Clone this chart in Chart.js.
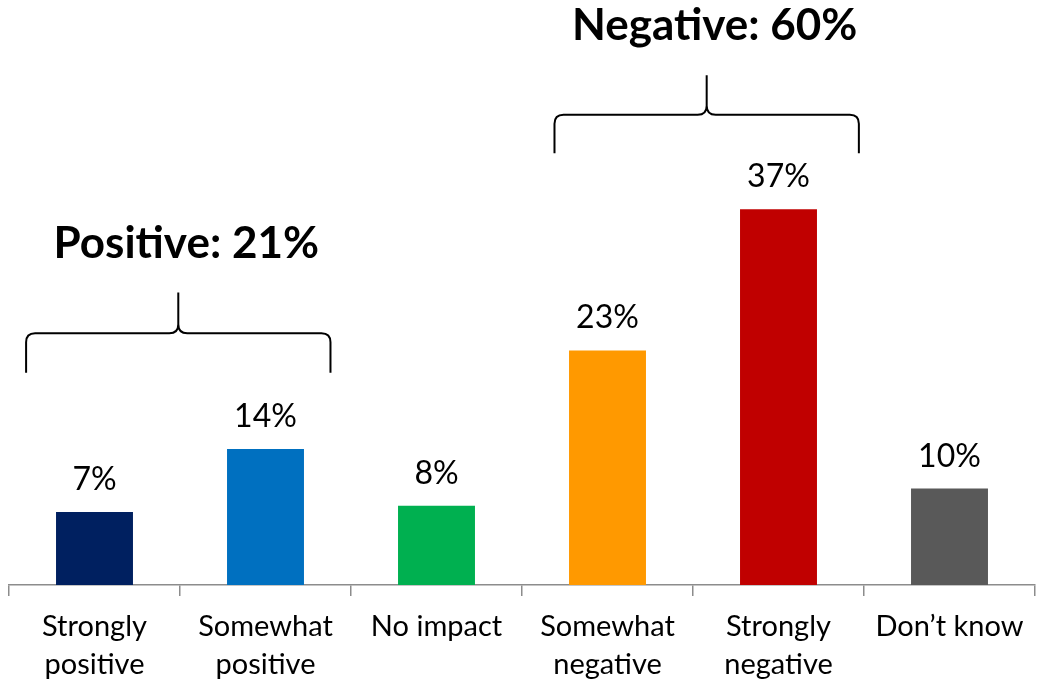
<!DOCTYPE html>
<html>
<head>
<meta charset="utf-8">
<script src="https://cdn.jsdelivr.net/npm/chart.js@4"></script>
<style>
  html, body { margin: 0; padding: 0; background: #fff; }
  #wrap { width: 1038px; height: 685px; }
</style>
</head>
<body>
<div id="wrap"><canvas id="impactChart"></canvas></div>
<script>
// chart data
const categories = [['Strongly', 'positive'], ['Somewhat', 'positive'], 'No impact', ['Somewhat', 'negative'], ['Strongly', 'negative'], 'Don\u2019t know'];
// bar heights as drawn (labels are the rounded figures)
const shares = [7.2, 13.4, 7.8, 23.1, 37.0, 9.5];
const shareLabels = ['7%', '14%', '8%', '23%', '37%', '10%'];
const barColors = ['#002060', '#0070C0', '#00B050', '#FF9900', '#C00000', '#595959'];

// bracket groups over the bars
const groupLabels = ['Positive: 21%', 'Negative: 60%'];
const groupFrom = [0, 3];
const groupTo = [1, 4];

// brace geometry (fractions of a category, y in data units)
const braceSpec = [
  { left: 0.40, right: 0.38, top: 28.8, mid: 24.8, bottom: 20.9, text: 32.2 },
  { left: 0.31, right: 0.47, top: 50.2, mid: 46.3, bottom: 42.5, text: 53.7 }
];

function drawBrace(ctx, x1, x2, yTop, yMid, yBot) {
  const xc = (x1 + x2) / 2;
  const r = 9;
  ctx.beginPath();
  ctx.moveTo(x1, yBot);
  ctx.lineTo(x1, yMid + r);
  ctx.quadraticCurveTo(x1, yMid, x1 + r, yMid);
  ctx.lineTo(xc - r, yMid);
  ctx.quadraticCurveTo(xc, yMid, xc, yMid - r);
  ctx.lineTo(xc, yTop);
  ctx.moveTo(xc, yMid - r);
  ctx.quadraticCurveTo(xc, yMid, xc + r, yMid);
  ctx.lineTo(x2 - r, yMid);
  ctx.quadraticCurveTo(x2, yMid, x2, yMid + r);
  ctx.lineTo(x2, yBot);
  ctx.stroke();
}

const annotations = {
  id: 'annotations',
  afterDatasetsDraw(chart) {
    const ctx = chart.ctx;
    const xs = chart.scales.x;
    const ys = chart.scales.y;
    const step = xs.getPixelForValue(1) - xs.getPixelForValue(0);

    // value labels above bars
    ctx.save();
    ctx.font = '32px Lato';
    ctx.fillStyle = '#000';
    ctx.textAlign = 'center';
    ctx.textBaseline = 'alphabetic';
    chart.getDatasetMeta(0).data.forEach((bar, i) => {
      ctx.fillText(shareLabels[i], bar.x, bar.y - 22);
    });

    // braces + group titles
    ctx.strokeStyle = '#000';
    ctx.lineWidth = 2;
    groupLabels.forEach((label, g) => {
      const s = braceSpec[g];
      const x1 = xs.getPixelForValue(groupFrom[g]) - s.left * step;
      const x2 = xs.getPixelForValue(groupTo[g]) + s.right * step;
      drawBrace(ctx, x1, x2, ys.getPixelForValue(s.top), ys.getPixelForValue(s.mid), ys.getPixelForValue(s.bottom));
      ctx.font = 'bold 44px Lato';
      ctx.fillText(label, (x1 + x2) / 2 + 8, ys.getPixelForValue(s.text));
    });
    ctx.restore();
  }
};

new Chart(document.getElementById('impactChart'), {
  type: 'bar',
  data: {
    labels: categories,
    datasets: [{
      data: shares,
      backgroundColor: barColors,
      barPercentage: 0.45,
      categoryPercentage: 1
    }]
  },
  options: {
    responsive: true,
    maintainAspectRatio: false,
    animation: false,
    layout: { padding: { left: 9, right: 3, top: 0, bottom: 0 } },
    plugins: {
      legend: { display: false },
      tooltip: { enabled: false }
    },
    scales: {
      x: {
        afterFit: function(scale) { scale.height = 100; },
        border: { display: true, color: '#8c8c8c', width: 1.5 },
        grid: { display: true, drawOnChartArea: false, drawTicks: true, tickLength: 11, color: '#8c8c8c', lineWidth: 1.5, offset: true },
        ticks: {
          color: '#000',
          font: { family: 'Lato', size: 29, lineHeight: 1.31 },
          padding: 12,
          maxRotation: 0,
          autoSkip: false
        }
      },
      y: {
        display: false,
        min: 0,
        max: 57.6
      }
    }
  },
  plugins: [annotations]
});
</script>
</body>
</html>
